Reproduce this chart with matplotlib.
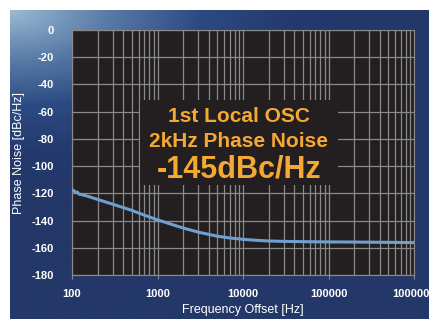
import numpy as np
import matplotlib.pyplot as plt
from matplotlib.colors import LinearSegmentedColormap
from matplotlib.patches import Rectangle

plt.rcParams['axes.unicode_minus'] = False
plt.rcParams['font.family'] = ['Liberation Sans', 'DejaVu Sans']

# phase noise readings
freq = [100, 105, 110, 115, 120, 130, 150, 200, 300, 500, 700, 1000, 1500, 2000, 3000,
        5000, 7000, 10000, 15000, 20000, 30000, 50000, 100000, 200000, 500000, 1000000]
noise = [-117.5, -118.0, -119.5, -119.0, -120.5, -121.0, -122.0, -124.5, -128.0, -132.5,
         -136.0, -139.5, -143.0, -145.5, -148.5, -151.5, -152.8, -153.8, -154.6, -155.0,
         -155.3, -155.5, -155.7, -155.8, -156.0, -156.2]
yticks = [0, -20, -40, -60, -80, -100, -120, -140, -160, -180]
xticks = [100, 1000, 10000, 100000, 1000000]

fig = plt.figure(figsize=(4.29, 3.19), dpi=100)
fig.patch.set_facecolor('white')

# gradient panel behind the plot
bg = fig.add_axes([10/429, 0, 419/429, 309/319])
bg.axis('off')
yy, xx = np.mgrid[0:1:200j, 0:1:200j]
r = np.clip(np.sqrt((xx*1.1)**2 + (yy*1.6)**2), 0, 1)
cmap = LinearSegmentedColormap.from_list('bl', ['#9ab9d2', '#5a7ca8', '#2c4a82', '#24396c', '#233868'])
bg.imshow(r, cmap=cmap, aspect='auto', extent=[0, 1, 0, 1], origin='upper')

ax = fig.add_axes([72/429, 1-275/319, 342/429, 245/319])
ax.set_facecolor('#231f20')
ax.semilogx(freq, noise, color='#6fa0d0', lw=2.2, zorder=3)
ax.set_xlim(100, 1000000)
ax.set_ylim(-180, 0)
ax.set_yticks(yticks)
ax.set_xticks(xticks)
ax.set_xticklabels([str(t) for t in xticks])
ax.grid(True, which='both', color='#8a8a8a', lw=0.9)
for s in ax.spines.values():
    s.set_color('#8a8a8a')
ax.tick_params(which='both', colors='#8a8a8a', length=3, labelcolor='white', labelsize=8)
ax.tick_params(axis='y', length=0, pad=13)
ax.tick_params(axis='x', pad=7)
ax.tick_params(axis='x', which='minor', length=0)
for lab in ax.get_xticklabels() + ax.get_yticklabels():
    lab.set_fontweight('bold')
ax.set_xlabel('Frequency Offset [Hz]', color='white', fontsize=9, labelpad=4)
ax.set_ylabel('Phase Noise [dBc/Hz]', color='white', fontsize=9, labelpad=5)

# dark box over the grid with the headline
ax.add_patch(Rectangle((0.199, 0.367), 0.579, 0.347, transform=ax.transAxes,
                       fc='#231f20', ec='none', zorder=4))
ax.text(0.488, 0.645, '1st Local OSC', transform=ax.transAxes, ha='center', va='center',
        color='#f5a833', fontsize=15, fontweight='bold', zorder=5)
ax.text(0.488, 0.543, '2kHz Phase Noise', transform=ax.transAxes, ha='center', va='center',
        color='#f5a833', fontsize=15, fontweight='bold', zorder=5)
ax.text(0.488, 0.43, '-145dBc/Hz', transform=ax.transAxes, ha='center', va='center',
        color='#f5a833', fontsize=22, fontweight='bold', zorder=5)

fig.savefig('out.png', dpi=100)
